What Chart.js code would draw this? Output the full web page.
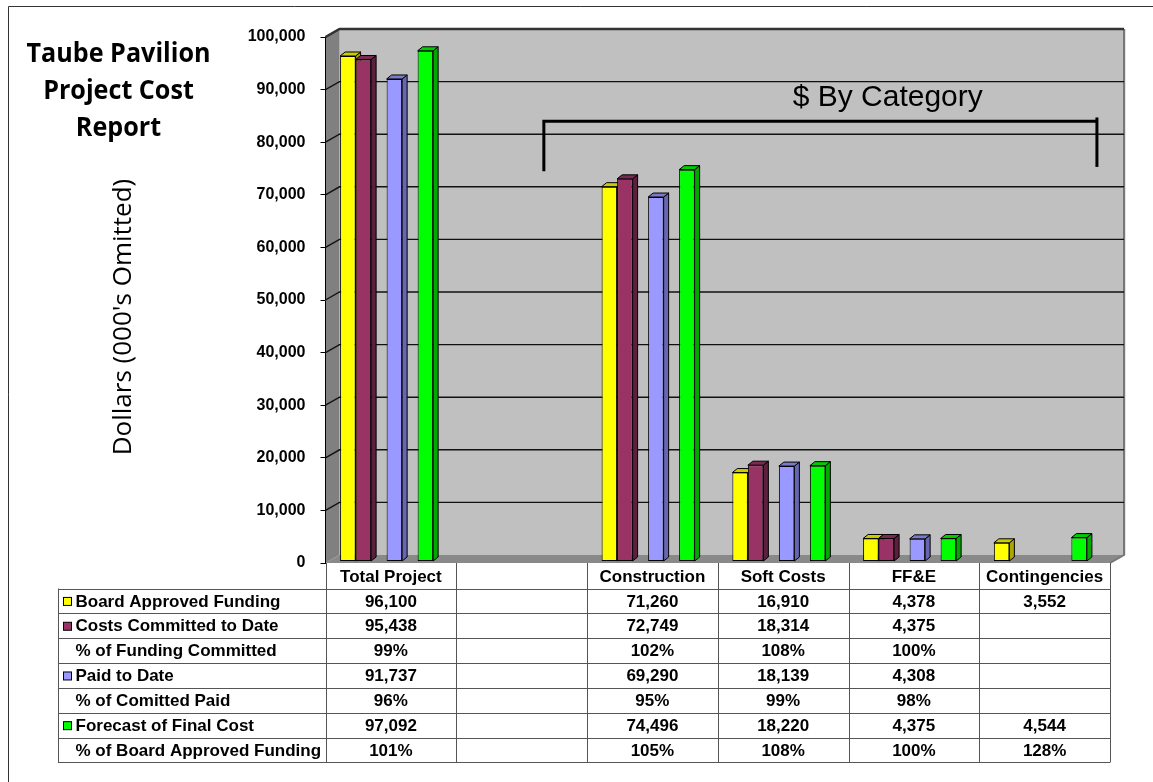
<!DOCTYPE html>
<html>
<head>
<meta charset="utf-8">
<title>Taube Pavilion Project Cost Report</title>
<script src="https://cdn.jsdelivr.net/npm/chart.js@4.4.1/dist/chart.umd.min.js"></script>
<style>
  html, body { margin: 0; padding: 0; background: #fff; }
  #wrap { width: 1153px; height: 782px; }
</style>
</head>
<body>
<div id="wrap"><canvas id="costChart" width="1153" height="782"></canvas></div>
<script>
// Chart data (dollars in thousands)
const categories = ["Total Project", "", "Construction", "Soft Costs", "FF&E", "Contingencies"];
const boardApproved = [96100, null, 71260, 16910, 4378, 3552];
const committed = [95438, null, 72749, 18314, 4375, null];
const pctFundingCommitted = [0.99, null, 1.02, 1.08, 1.00, null];
const paidToDate = [91737, null, 69290, 18139, 4308, null];
const pctCommittedPaid = [0.96, null, 0.95, 0.99, 0.98, null];
const forecast = [97092, null, 74496, 18220, 4375, 4544];
const pctBoardApproved = [1.01, null, 1.05, 1.08, 1.00, 1.28];
const yMin = 0;
const yMax = 100000;
const yStep = 10000;

const FONT = "'Liberation Sans', Arial, sans-serif";
const TITLE_FONT = "'Open Sans', 'Noto Sans', sans-serif";

// 3D look
const WALL_DX = 14, WALL_DY = 8;
const BAR_DX = 5, BAR_DY = 4;
const BAR_SHIFT_X = 3.5, BAR_SHIFT_Y = -1.5;

const fmtNum = (v) => v.toLocaleString("en-US");
const fmtPct = (v) => Math.round(v * 100) + "%";

function series(label, data, color, side, top) {
  return {
    label: label,
    data: data,
    backgroundColor: color,
    borderColor: "#000",
    borderWidth: 1,
    borderSkipped: false,
    sideColor: side,
    topColor: top,
    isPercent: false,
  };
}

function pctSeries(label, data) {
  return {
    label: label,
    data: data,
    backgroundColor: "rgba(0,0,0,0)",
    borderWidth: 0,
    isPercent: true,
  };
}

const datasets = [
  series("Board Approved Funding", boardApproved, "#ffff00", "#a8a800", "#cccc00"),
  series("Costs Committed to Date", committed, "#993366", "#5c1f3d", "#7a2952"),
  pctSeries("% of Funding Committed", pctFundingCommitted),
  series("Paid to Date", paidToDate, "#9999ff", "#6666b3", "#7a7acc"),
  pctSeries("% of Comitted Paid", pctCommittedPaid),
  series("Forecast of Final Cost", forecast, "#00ff00", "#00a800", "#00cc00"),
  pctSeries("% of Board Approved Funding", pctBoardApproved),
];

// draw text squeezed to a given width (Calibri-like look)
function fitText(ctx, text, x, y, width) {
  const w = ctx.measureText(text).width;
  const s = Math.min(1, width / w);
  ctx.save();
  ctx.translate(x, y);
  ctx.scale(s, 1);
  ctx.fillText(text, 0, 0);
  ctx.restore();
}

// back wall, side wall, floor and grid lines
const wallsPlugin = {
  id: "walls",
  beforeDraw(chart) {
    const { ctx, chartArea: a } = chart;
    ctx.save();
    ctx.fillStyle = "#c0c0c0";
    ctx.fillRect(a.left + WALL_DX, a.top - WALL_DY, a.right - a.left, a.bottom - a.top);

    ctx.fillStyle = "#808080";
    ctx.beginPath();
    ctx.moveTo(a.left, a.top);
    ctx.lineTo(a.left + WALL_DX, a.top - WALL_DY);
    ctx.lineTo(a.left + WALL_DX, a.bottom - WALL_DY);
    ctx.lineTo(a.left, a.bottom);
    ctx.closePath();
    ctx.fill();

    ctx.fillStyle = "#898989";
    ctx.beginPath();
    ctx.moveTo(a.left, a.bottom);
    ctx.lineTo(a.left + WALL_DX, a.bottom - WALL_DY);
    ctx.lineTo(a.right + WALL_DX, a.bottom - WALL_DY);
    ctx.lineTo(a.right, a.bottom);
    ctx.closePath();
    ctx.fill();

    // edges
    ctx.strokeStyle = "#777";
    ctx.lineWidth = 2;
    ctx.beginPath();
    ctx.moveTo(a.right + WALL_DX, a.top - WALL_DY);
    ctx.lineTo(a.right + WALL_DX, a.bottom - WALL_DY);
    ctx.lineTo(a.right, a.bottom);
    ctx.stroke();
    ctx.strokeStyle = "#e4e4e4";
    ctx.lineWidth = 1;
    ctx.beginPath();
    ctx.moveTo(a.right + WALL_DX + 1.5, a.top - WALL_DY);
    ctx.lineTo(a.right + WALL_DX + 1.5, a.bottom - WALL_DY);
    ctx.stroke();
    ctx.restore();
  },
  beforeDatasetsDraw(chart) {
    const { ctx, chartArea: a, scales: { y } } = chart;
    ctx.save();
    ctx.strokeStyle = "#111";
    ctx.lineWidth = 1.4;
    y.ticks.forEach((t) => {
      const py = y.getPixelForValue(t.value);
      if (t.value === yMin) return;
      ctx.beginPath();
      ctx.moveTo(a.left, py);
      ctx.lineTo(a.left + WALL_DX, py - WALL_DY);
      ctx.lineTo(a.right + WALL_DX, py - WALL_DY);
      ctx.stroke();
    });
    ctx.strokeStyle = "#333";
    ctx.lineWidth = 2.5;
    ctx.beginPath();
    ctx.moveTo(a.left, a.top);
    ctx.lineTo(a.left + WALL_DX, a.top - WALL_DY);
    ctx.lineTo(a.right + WALL_DX, a.top - WALL_DY);
    ctx.stroke();
    ctx.restore();
  },
};

function drawFaces(ctx, bar, side, top) {
  const { x, y, base, width } = bar.getProps(["x", "y", "base", "width"], true);
  const l = x - width / 2;
  const r = x + width / 2;
  ctx.lineWidth = 1;
  ctx.strokeStyle = "#000";
  ctx.lineJoin = "round";

  ctx.beginPath();
  ctx.moveTo(r, y);
  ctx.lineTo(r + BAR_DX, y - BAR_DY);
  ctx.lineTo(r + BAR_DX, base - BAR_DY);
  ctx.lineTo(r, base);
  ctx.closePath();
  ctx.fillStyle = side;
  ctx.fill();
  ctx.stroke();

  ctx.beginPath();
  ctx.moveTo(l, y);
  ctx.lineTo(l + BAR_DX, y - BAR_DY);
  ctx.lineTo(r + BAR_DX, y - BAR_DY);
  ctx.lineTo(r, y);
  ctx.closePath();
  ctx.fillStyle = top;
  ctx.fill();
  ctx.stroke();
}

// draw the bars left to right so each one hides its neighbour's side
const bars3dPlugin = {
  id: "bars3d",
  beforeDatasetDraw() {
    return false;
  },
  afterDatasetsDraw(chart) {
    const ctx = chart.ctx;
    ctx.save();
    ctx.translate(BAR_SHIFT_X, BAR_SHIFT_Y);
    categories.forEach((c, j) => {
      chart.data.datasets.forEach((ds, i) => {
        if (ds.isPercent || ds.data[j] == null) return;
        const bar = chart.getDatasetMeta(i).data[j];
        bar.draw(ctx);
        drawFaces(ctx, bar, ds.sideColor, ds.topColor);
      });
    });
    ctx.restore();
  },
};

// bracket note
const bracket = { left: 1.17, right: 5.4, lineValue: 84000, leftEnd: 74500, rightEnd: 75300, rightTop: 84700, textX: 3.8, textValue: 88500 };

const notesPlugin = {
  id: "notes",
  afterDraw(chart) {
    const { ctx, chartArea: a, scales: { x, y } } = chart;
    ctx.save();

    // frame
    ctx.strokeStyle = "#333";
    ctx.lineWidth = 1;
    ctx.beginPath();
    ctx.moveTo(8.5, 782);
    ctx.lineTo(8.5, 6.5);
    ctx.lineTo(1153, 6.5);
    ctx.stroke();

    // title
    ctx.fillStyle = "#000";
    ctx.textAlign = "center";
    ctx.textBaseline = "middle";
    ctx.font = "bold 26px " + TITLE_FONT;
    const titleLines = ["Taube Pavilion", "Project Cost", "Report"];
    const sx = Math.min(1, 184 / ctx.measureText(titleLines[0]).width);
    titleLines.forEach((t, i) => {
      ctx.save();
      ctx.translate(118.5, 55 + i * 37);
      ctx.scale(sx, 1);
      ctx.fillText(t, 0, 0);
      ctx.restore();
    });

    // y axis title
    ctx.font = "26px " + TITLE_FONT;
    ctx.save();
    ctx.translate(124, 317);
    ctx.rotate(-Math.PI / 2);
    fitText(ctx, "Dollars (000's Omitted)", 0, 0, 288);
    ctx.restore();

    // $ By Category bracket
    const bl = x.getPixelForValue(bracket.left);
    const br = x.getPixelForValue(bracket.right);
    const by = y.getPixelForValue(bracket.lineValue);
    ctx.strokeStyle = "#000";
    ctx.lineWidth = 3;
    ctx.lineCap = "butt";
    ctx.beginPath();
    ctx.moveTo(bl, y.getPixelForValue(bracket.leftEnd));
    ctx.lineTo(bl, by);
    ctx.lineTo(br, by);
    ctx.stroke();
    ctx.beginPath();
    ctx.moveTo(br, y.getPixelForValue(bracket.rightTop));
    ctx.lineTo(br, y.getPixelForValue(bracket.rightEnd));
    ctx.stroke();
    ctx.font = "30px " + FONT;
    ctx.fillText("$ By Category", x.getPixelForValue(bracket.textX), y.getPixelForValue(bracket.textValue));

    // data table
    const labelLeft = 58;
    const headerH = 25.5;
    const rowH = 24.85;
    const top = a.bottom;
    const rowsTop = top + headerH;
    const rows = chart.data.datasets;
    const bottom = rowsTop + rows.length * rowH;
    const colEdge = (i) => x.getPixelForValue(i - 0.5);

    ctx.strokeStyle = "#555";
    ctx.lineWidth = 1;
    ctx.beginPath();
    for (let i = 0; i <= categories.length; i++) {
      const px = Math.round(colEdge(i)) + 0.5;
      ctx.moveTo(px, top);
      ctx.lineTo(px, bottom);
    }
    ctx.moveTo(labelLeft + 0.5, rowsTop);
    ctx.lineTo(labelLeft + 0.5, bottom);
    for (let r = 0; r <= rows.length; r++) {
      const py = Math.round(rowsTop + r * rowH) + 0.5;
      ctx.moveTo(labelLeft, py);
      ctx.lineTo(colEdge(categories.length), py);
    }
    ctx.stroke();

    ctx.font = "bold 17px " + FONT;
    ctx.textAlign = "center";
    categories.forEach((c, i) => {
      ctx.fillText(c, x.getPixelForValue(i), top + headerH / 2 + 1.5);
    });

    rows.forEach((ds, r) => {
      const cy = rowsTop + r * rowH + rowH / 2 + 1;
      if (!ds.isPercent) {
        ctx.fillStyle = ds.backgroundColor;
        ctx.fillRect(63.5, cy - 4.5, 8, 8);
        ctx.strokeStyle = "#000";
        ctx.strokeRect(63.5, cy - 4.5, 8, 8);
      }
      ctx.fillStyle = "#000";
      ctx.textAlign = "left";
      ctx.fillText(ds.label, 75.5, cy);
      ctx.textAlign = "center";
      ds.data.forEach((v, i) => {
        if (v == null) return;
        ctx.fillText(ds.isPercent ? fmtPct(v) : fmtNum(v), x.getPixelForValue(i), cy);
      });
    });

    ctx.restore();
  },
};

new Chart(document.getElementById("costChart").getContext("2d"), {
  type: "bar",
  data: {
    labels: categories,
    datasets: datasets,
  },
  options: {
    responsive: false,
    devicePixelRatio: 1,
    animation: false,
    events: [],
    layout: {
      padding: { left: 0, top: 37, right: 43, bottom: 219 },
    },
    datasets: {
      bar: {
        categoryPercentage: 0.83,
        barPercentage: 1,
      },
    },
    plugins: {
      legend: { display: false },
      title: { display: false },
      tooltip: { enabled: false },
    },
    scales: {
      x: {
        display: false,
      },
      y: {
        min: yMin,
        max: yMax,
        afterFit: (scale) => {
          scale.width = 325.5;
        },
        ticks: {
          stepSize: yStep,
          padding: 15,
          color: "#000",
          font: { family: FONT, size: 16, weight: "bold" },
          callback: (v) => fmtNum(v),
        },
        grid: {
          drawOnChartArea: false,
          drawTicks: true,
          tickLength: 5,
          color: "#000",
        },
        border: { display: true, color: "#000", width: 1 },
      },
    },
  },
  plugins: [wallsPlugin, bars3dPlugin, notesPlugin],
});
</script>
</body>
</html>
